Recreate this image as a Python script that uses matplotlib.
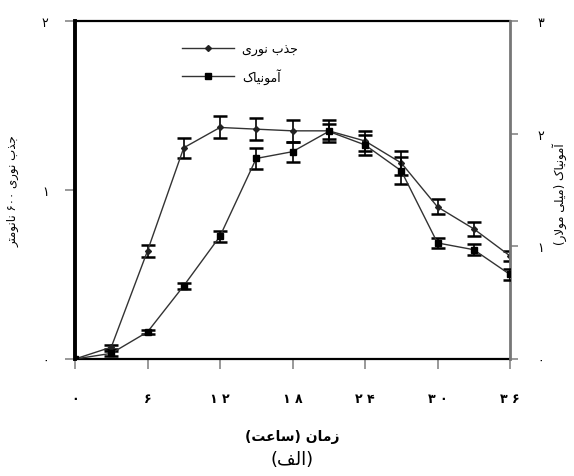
import matplotlib
matplotlib.use("Agg")
import matplotlib.pyplot as plt
from matplotlib.lines import Line2D

# ---------------- data ----------------
hours = [0, 3, 6, 9, 12, 15, 18, 21, 24, 27, 30, 33, 36]
od600 = [0.00, 0.07, 0.64, 1.25, 1.37, 1.36, 1.35, 1.35, 1.29, 1.16, 0.90, 0.77, 0.61]
od600_err = [0.0, 0.01, 0.035, 0.06, 0.065, 0.065, 0.065, 0.065, 0.06, 0.07, 0.045, 0.04, 0.03]
ammonia = [0.00, 0.05, 0.24, 0.65, 1.09, 1.78, 1.84, 2.02, 1.90, 1.67, 1.03, 0.97, 0.75]
ammonia_err = [0.0, 0.02, 0.02, 0.025, 0.05, 0.09, 0.09, 0.07, 0.09, 0.12, 0.045, 0.05, 0.045]

x_ticks = [0, 6, 12, 18, 24, 30, 36]
x_ticklabels = ["۰", "۶", "۱ ۲", "۱ ۸", "۲ ۴", "۳ ۰", "۳ ۶"]
left_ticks = [0, 1, 2]
left_ticklabels = ["۰", "۱", "۲"]
right_ticks = [0, 1, 2, 3]
right_ticklabels = ["۰", "۱", "۲", "۳"]

label_od = "جذب نوری"
label_nh3 = "آمونیاک"
ylabel_left = "جذب نوری ۶۰۰ نانومتر"
ylabel_right = "آمونیاک (میلی مولار)"
xlabel = "زمان (ساعت)"
caption = "(الف)"

# ---------------- simple Arabic/Persian shaping ----------------
FORMS = {  # iso, fin, ini, med
    'ا': ('\uFE8D', '\uFE8E', None, None),
    'آ': ('\uFE81', '\uFE82', None, None),
    'ب': ('\uFE8F', '\uFE90', '\uFE91', '\uFE92'),
    'ت': ('\uFE95', '\uFE96', '\uFE97', '\uFE98'),
    'ج': ('\uFE9D', '\uFE9E', '\uFE9F', '\uFEA0'),
    'ذ': ('\uFEAB', '\uFEAC', None, None),
    'ر': ('\uFEAD', '\uFEAE', None, None),
    'ز': ('\uFEAF', '\uFEB0', None, None),
    'س': ('\uFEB1', '\uFEB2', '\uFEB3', '\uFEB4'),
    'ع': ('\uFEC9', '\uFECA', '\uFECB', '\uFECC'),
    'ف': ('\uFED1', '\uFED2', '\uFED3', '\uFED4'),
    'ل': ('\uFEDD', '\uFEDE', '\uFEDF', '\uFEE0'),
    'م': ('\uFEE1', '\uFEE2', '\uFEE3', '\uFEE4'),
    'ن': ('\uFEE5', '\uFEE6', '\uFEE7', '\uFEE8'),
    'و': ('\uFEED', '\uFEEE', None, None),
    'ی': ('\uFBFC', '\uFBFD', '\uFBFE', '\uFBFF'),
    'ک': ('\uFB8E', '\uFB8F', '\uFB90', '\uFB91'),
}


def shape(text):
    chars = list(text)
    merged = []
    i = 0
    while i < len(chars):
        if chars[i] == 'ل' and i + 1 < len(chars) and chars[i + 1] == 'ا':
            merged.append('LA')
            i += 2
        else:
            merged.append(chars[i])
            i += 1

    def dual(c):
        return c in FORMS and FORMS[c][2] is not None

    def joins(c):
        return c in FORMS or c == 'LA'

    out = []
    for k, c in enumerate(merged):
        prev = merged[k - 1] if k > 0 else None
        nxt = merged[k + 1] if k + 1 < len(merged) else None
        cp = prev is not None and dual(prev) and joins(c)
        if c == 'LA':
            out.append('\uFEFC' if cp else '\uFEFB')
            continue
        if c not in FORMS:
            out.append(c)
            continue
        cn = dual(c) and nxt is not None and joins(nxt)
        iso, fin, ini, med = FORMS[c]
        if cp and cn:
            out.append(med)
        elif cp:
            out.append(fin)
        elif cn:
            out.append(ini)
        else:
            out.append(iso)
    vis = out[::-1]
    mirror = {'(': ')', ')': '('}
    vis = [mirror.get(c, c) for c in vis]
    res = []
    run = []
    for c in vis:
        if c.isdigit():
            run.append(c)
        else:
            if run:
                res.extend(run[::-1])
                run = []
            res.append(c)
    if run:
        res.extend(run[::-1])
    return ''.join(res)


plt.rcParams['font.family'] = ['DejaVu Sans']

fig = plt.figure(figsize=(5.74, 4.77), dpi=100)
ax = fig.add_axes([0.1307, 0.2453, 0.7578, 0.7086])
ax2 = ax.twinx()

line_c = '#333333'
ax.errorbar(hours, od600, yerr=od600_err, color=line_c, lw=1.0,
            marker='D', ms=3, mfc='#222222', mec='#222222',
            ecolor='black', elinewidth=1.2, capsize=5, capthick=1.8, zorder=3)
ax2.errorbar(hours, ammonia, yerr=ammonia_err, color=line_c, lw=1.0,
             marker='s', ms=5, mfc='black', mec='black',
             ecolor='black', elinewidth=1.2, capsize=5, capthick=1.8, zorder=3)

ax.set_xlim(0, 36)
ax.set_ylim(0, 2)
ax2.set_ylim(0, 3)

ax.set_xticks(x_ticks)
ax.set_xticklabels(x_ticklabels, fontweight='bold', fontsize=9)
ax.set_yticks(left_ticks)
ax.set_yticklabels(left_ticklabels, fontsize=9)
ax2.set_yticks(right_ticks)
ax2.set_yticklabels(right_ticklabels, fontsize=9)

tick_c = '#888888'
ax.tick_params(axis='x', direction='out', length=7, width=1.2, color=tick_c, pad=17)
ax.tick_params(axis='y', direction='out', length=7, width=1.2, color=tick_c, pad=12)
ax2.tick_params(axis='y', direction='out', length=6, width=1.2, color=tick_c, pad=14)

ax.spines['left'].set_linewidth(2.8)
ax.spines['left'].set_color('black')
for s in ['top', 'bottom']:
    ax.spines[s].set_linewidth(1.6)
    ax.spines[s].set_color('black')
ax.spines['right'].set_visible(False)
for s in ['left', 'top', 'bottom']:
    ax2.spines[s].set_visible(False)
ax2.spines['right'].set_color('#777777')
ax2.spines['right'].set_linewidth(2.0)

ax.set_xlabel(shape(xlabel), fontsize=10, fontweight='bold', labelpad=17)
ax.set_ylabel(shape(ylabel_left), fontsize=8.5, rotation=90, va='center')
ax.yaxis.set_label_coords(-0.142, 0.50)
ax2.set_ylabel(shape(ylabel_right), fontsize=8.5, rotation=90, va='center')
ax2.yaxis.set_label_coords(1.115, 0.49)

fig.text(0.509, 0.035, shape(caption), fontsize=13, ha='center', va='center')

hl1 = Line2D([], [], color=line_c, lw=1.0, marker='D', ms=3, mfc='#222222', mec='#222222')
hl2 = Line2D([], [], color=line_c, lw=1.0, marker='s', ms=5, mfc='black', mec='black')
ax.legend([hl1, hl2], [shape(label_od), shape(label_nh3)], loc='upper left',
          bbox_to_anchor=(0.22, 0.97), frameon=False, fontsize=9,
          handlelength=4.2, labelspacing=1.0, handletextpad=0.6)

fig.savefig('out.png', dpi=100)
